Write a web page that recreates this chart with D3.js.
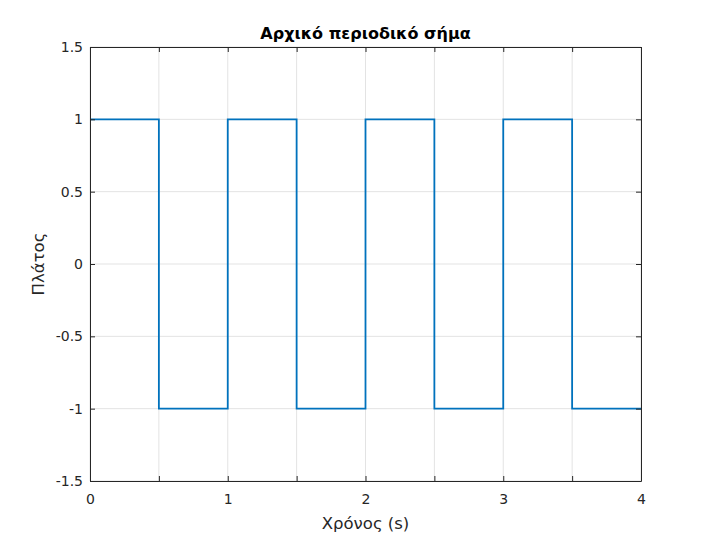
<!DOCTYPE html>
<html>
<head>
<meta charset="utf-8">
<script src="https://cdn.jsdelivr.net/npm/d3@7"></script>
<style>
  body { margin: 0; background: #fff; }
  svg { font-family: 'DejaVu Sans', sans-serif; }
</style>
</head>
<body>
<div id="chart"></div>
<script>
// square wave: level holds from each break to the next
const timeBreaks = [0, 0.5, 1, 1.5, 2, 2.5, 3, 3.5, 4];
const levels = [1, -1, 1, -1, 1, -1, 1, -1, -1];
const xTicks = [0, 0.5, 1, 1.5, 2, 2.5, 3, 3.5, 4];
const xLabels = [0, 1, 2, 3, 4];
const yTicks = [-1.5, -1, -0.5, 0, 0.5, 1, 1.5];

const width = 720, height = 540;
const margin = { left: 90, right: 79, top: 47, bottom: 59 };
const innerW = width - margin.left - margin.right;
const innerH = height - margin.top - margin.bottom;

const svg = d3.select('#chart').append('svg')
  .attr('width', width).attr('height', height);

const g = svg.append('g')
  .attr('transform', `translate(${margin.left},${margin.top})`);

const x = d3.scaleLinear().domain([0, 4]).range([0, innerW]);
const y = d3.scaleLinear().domain([-1.5, 1.5]).range([innerH, 0]);

// grid
g.append('g').selectAll('line').data(xTicks).join('line')
  .attr('x1', d => x(d)).attr('x2', d => x(d))
  .attr('y1', 0).attr('y2', innerH)
  .attr('stroke', '#e3e3e3').attr('stroke-width', 1);
g.append('g').selectAll('line').data(yTicks).join('line')
  .attr('x1', 0).attr('x2', innerW)
  .attr('y1', d => y(d)).attr('y2', d => y(d))
  .attr('stroke', '#e3e3e3').attr('stroke-width', 1);

// signal
const pts = timeBreaks.map((t, i) => [t, levels[i]]);
g.append('path')
  .datum(pts)
  .attr('fill', 'none')
  .attr('stroke', '#0072BD')
  .attr('stroke-width', 1.8)
  .attr('d', d3.line().x(d => x(d[0])).y(d => y(d[1])).curve(d3.curveStepAfter));

// axes (ticks inside, MATLAB style)
const axColor = '#262626';
const xAxis = g.append('g').attr('transform', `translate(0,${innerH})`)
  .call(d3.axisBottom(x).tickValues(xTicks).tickSizeInner(-5).tickSizeOuter(0)
    .tickFormat(d => xLabels.includes(d) ? String(d) : ''));
const yAxis = g.append('g')
  .call(d3.axisLeft(y).tickValues(yTicks).tickSizeInner(-5).tickSizeOuter(0)
    .tickFormat(d => String(d)));
const xTop = g.append('g')
  .call(d3.axisTop(x).tickValues(xTicks).tickSizeInner(-5).tickSizeOuter(0).tickFormat(''));
const yRight = g.append('g').attr('transform', `translate(${innerW},0)`)
  .call(d3.axisRight(y).tickValues(yTicks).tickSizeInner(-5).tickSizeOuter(0).tickFormat(''));

[xAxis, yAxis, xTop, yRight].forEach(a => {
  a.select('.domain').attr('stroke', axColor).attr('stroke-width', 1);
  a.selectAll('.tick line').attr('stroke', axColor);
  a.selectAll('text').attr('fill', axColor).attr('font-size', 14)
    .attr('font-family', "'DejaVu Sans', sans-serif");
});
xAxis.selectAll('text').attr('y', 23).attr('dy', 0);
yAxis.selectAll('text').attr('x', -7);

// labels
svg.append('text')
  .attr('x', margin.left + innerW / 2).attr('y', 39)
  .attr('text-anchor', 'middle').attr('font-weight', 'bold').attr('font-size', 16)
  .attr('fill', '#000')
  .text('Αρχικό περιοδικό σήμα');
svg.append('text')
  .attr('x', margin.left + innerW / 2).attr('y', 529)
  .attr('text-anchor', 'middle').attr('font-size', 16.5).attr('fill', axColor)
  .text('Χρόνος (s)');
svg.append('text')
  .attr('transform', `translate(44,${margin.top + innerH / 2}) rotate(-90)`)
  .attr('text-anchor', 'middle').attr('font-size', 16.5).attr('fill', axColor)
  .text('Πλάτος');
</script>
</body>
</html>
